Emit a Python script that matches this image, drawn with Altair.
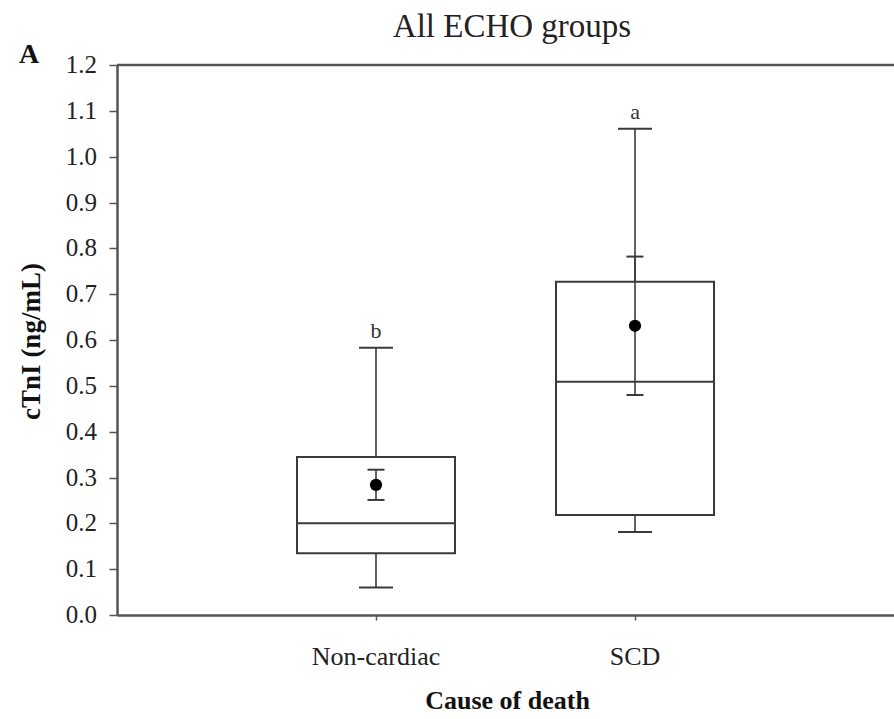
import altair as alt
import pandas as pd

causes = ["Non-cardiac", "SCD"]
whisk_low = [0.06, 0.181]
q1 = [0.135, 0.218]
median = [0.20, 0.509]
q3 = [0.345, 0.727]
whisk_high = [0.583, 1.061]
mean = [0.284, 0.631]
se_low = [0.251, 0.48]
se_high = [0.317, 0.782]
letters = ["b", "a"]
y_ticks = [0.0, 0.1, 0.2, 0.3, 0.4, 0.5, 0.6, 0.7, 0.8, 0.9, 1.0, 1.1, 1.2]
y_tick_labels = ["0.0", "0.1", "0.2", "0.3", "0.4", "0.5", "0.6", "0.7", "0.8", "0.9", "1.0", "1.1", "1.2"]

df = pd.DataFrame({
    "cause": causes, "wlo": whisk_low, "q1": q1, "med": median, "q3": q3,
    "whi": whisk_high, "mean": mean, "selo": se_low, "sehi": se_high, "let": letters,
})
ticks_df = pd.DataFrame({"v": y_ticks, "lab": y_tick_labels})

FONT = "Liberation Serif"
LINE = "#3a3a3a"

xscale = alt.Scale(type="point", padding=1, domain=causes)
yscale = alt.Scale(domain=[0, 1.2], nice=False, zero=False)

x_axis = alt.Axis(title="Cause of death", labels=False, ticks=True, tickSize=5,
                  titleFontSize=26, titleFontWeight="bold", titleFont=FONT,
                  titleX=390, titleY=85, titleBaseline="middle", titleAlign="center",
                  domainColor="#555", domainWidth=2.5, tickColor="#555", tickWidth=1.5,
                  titleColor="#111", grid=False)
y_axis = alt.Axis(title="cTnI (ng/mL)", values=y_ticks, labels=False, tickSize=8,
                  titleFontSize=27, titleFontWeight="bold", titleFont=FONT,
                  titleX=-86, titleY=276, titleAngle=-90, titleBaseline="middle", titleAlign="center",
                  domainColor="#555", domainWidth=2.5, tickColor="#555", tickWidth=1.5,
                  titleColor="#111", grid=False)

base = alt.Chart(df)
X = alt.X("cause:N", scale=xscale, axis=x_axis)


def Y(field):
    return alt.Y(field, scale=yscale, axis=y_axis)


box = base.mark_bar(size=158, fill="white", stroke=LINE, strokeWidth=2).encode(
    x=X, y=Y("q1:Q"), y2="q3:Q")
med = base.mark_tick(size=158, thickness=2, color=LINE, opacity=1).encode(x=X, y=Y("med:Q"))
whisk_up = base.mark_rule(color=LINE, strokeWidth=1.6).encode(x=X, y=Y("q3:Q"), y2="whi:Q")
whisk_dn = base.mark_rule(color=LINE, strokeWidth=1.6).encode(x=X, y=Y("wlo:Q"), y2="q1:Q")
cap_hi = base.mark_tick(size=34, thickness=2, color=LINE, opacity=1).encode(x=X, y=Y("whi:Q"))
cap_lo = base.mark_tick(size=34, thickness=2, color=LINE, opacity=1).encode(x=X, y=Y("wlo:Q"))
se_rule = base.mark_rule(color=LINE, strokeWidth=1.6).encode(x=X, y=Y("selo:Q"), y2="sehi:Q")
se_hi = base.mark_tick(size=17, thickness=2, color=LINE, opacity=1).encode(x=X, y=Y("sehi:Q"))
se_lo = base.mark_tick(size=17, thickness=2, color=LINE, opacity=1).encode(x=X, y=Y("selo:Q"))
dot = base.mark_circle(size=150, color="black", opacity=1).encode(x=X, y=Y("mean:Q"))
lett = base.mark_text(font=FONT, fontSize=22, baseline="bottom", dy=-5, color="#333").encode(
    x=X, y=Y("whi:Q"), text="let:N")

# tick labels drawn as text marks
ylabels = alt.Chart(ticks_df).mark_text(font=FONT, fontSize=25, align="right", baseline="middle",
                                         color="#222").encode(
    x=alt.value(-20), y=Y("v:Q"), text="lab:N")
xlabels = base.mark_text(font=FONT, fontSize=26, align="center", baseline="middle",
                         color="#222").encode(
    x=X, y=alt.value(592), text="cause:N")

top = alt.Chart(pd.DataFrame({"v": [1.2]})).mark_rule(color="#555", strokeWidth=2.5).encode(
    y=Y("v:Q"))

title_df = pd.DataFrame({"t": ["All ECHO groups"]})
title = alt.Chart(title_df).mark_text(font=FONT, fontSize=33, color="#222", baseline="alphabetic").encode(
    x=alt.value(395), y=alt.value(-28), text="t:N")
panel = alt.Chart(pd.DataFrame({"t": ["A"]})).mark_text(font=FONT, fontSize=28, fontWeight="bold",
                                                        color="#111", baseline="alphabetic").encode(
    x=alt.value(-88), y=alt.value(-2), text="t:N")

chart = alt.layer(box, whisk_up, whisk_dn, cap_hi, cap_lo, med, se_rule, se_hi, se_lo, dot, lett,
                  ylabels, xlabels, top, title, panel).properties(
    width=777, height=550,
    autosize=alt.AutoSizeParams(type="none"),
    padding={"left": 117, "top": 65, "right": 0, "bottom": 104},
    background="white",
).configure_view(stroke=None).configure_text(font=FONT)

chart.save("out.html", embed_options={"renderer": "svg", "actions": False})
